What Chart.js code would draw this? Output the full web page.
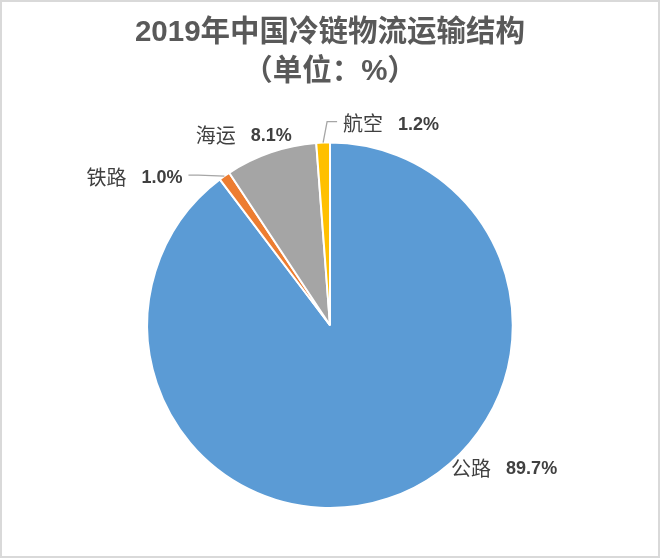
<!DOCTYPE html>
<html>
<head>
<meta charset="utf-8">
<script src="https://cdn.jsdelivr.net/npm/chart.js@4/dist/chart.umd.min.js"></script>
<style>
    body { margin: 0; background: #ffffff; }
    #chart { display: block; }
</style>
</head>
<body>
<canvas id="chart" width="660" height="558"></canvas>
<script>
"use strict";

// Chart data
var categories = ['公路', '铁路', '海运', '航空'];
var shares = [89.7, 1.0, 8.1, 1.2];
var valueLabels = ['89.7%', '1.0%', '8.1%', '1.2%'];
var titleLines = ['2019年中国冷链物流运输结构', '（单位：%）'];

// Slice colors
var sliceColors = ['#5B9BD5', '#ED7D31', '#A5A5A5', '#FFC000'];

// Label placement, relative to the outer middle of each slice
var labelOffsets = [[116, -30], [-90, 1], [-27, -17], [68, -19]];
var labelLeaders = [false, true, false, true];

var textColor = '#404040';
var cjkFont = '"Noto Sans CJK SC", sans-serif';
var latinFont = '"Liberation Sans", "Noto Sans CJK SC", sans-serif';

// Frame around the picture
var framePlugin = {
    id: 'frame',
    beforeDraw: function (chart) {
        var ctx = chart.ctx;
        ctx.save();
        ctx.fillStyle = '#ffffff';
        ctx.fillRect(0, 0, chart.width, chart.height);
        ctx.strokeStyle = '#d9d9d9';
        ctx.lineWidth = 2;
        ctx.strokeRect(1, 1, chart.width - 2, chart.height - 2);
        ctx.restore();
    }
};

// Outside labels with leader lines
var sliceLabelPlugin = {
    id: 'sliceLabels',
    afterDatasetsDraw: function (chart) {
        var ctx = chart.ctx;
        var arcs = chart.getDatasetMeta(0).data;
        ctx.save();
        arcs.forEach(function (arc, i) {
            var mid = (arc.startAngle + arc.endAngle) / 2;
            var px = arc.x + Math.cos(mid) * arc.outerRadius;
            var py = arc.y + Math.sin(mid) * arc.outerRadius;
            var cx = px + labelOffsets[i][0];
            var cy = py + labelOffsets[i][1];

            var nameFont = '20px ' + cjkFont;
            var valueFont = 'bold 18px ' + latinFont;
            ctx.font = nameFont;
            var nameW = ctx.measureText(categories[i]).width;
            ctx.font = valueFont;
            var valueW = ctx.measureText(valueLabels[i]).width;
            var gap = 15;
            var total = nameW + gap + valueW;
            var left = cx - total / 2;

            ctx.fillStyle = textColor;
            ctx.textBaseline = 'middle';
            ctx.textAlign = 'left';
            ctx.font = nameFont;
            ctx.fillText(categories[i], left, cy);
            ctx.font = valueFont;
            ctx.fillText(valueLabels[i], left + nameW + gap, cy + 1);

            if (labelLeaders[i]) {
                var side = cx > px ? -1 : 1;
                var endX = cx > px ? left - 6 : left + total + 6;
                var lineY = cy - 2;
                var elbowX = endX + side * 10;
                ctx.strokeStyle = '#a6a6a6';
                ctx.lineWidth = 1.3;
                ctx.beginPath();
                ctx.moveTo(px, py);
                ctx.lineTo(elbowX, lineY);
                ctx.lineTo(endX, lineY);
                ctx.stroke();
            }
        });
        ctx.restore();
    }
};

var ctx = document.getElementById('chart');

const config = {
    type: 'pie',
    data: {
        labels: categories,
        datasets: [
            {
                data: shares,
                backgroundColor: sliceColors,
                borderColor: '#ffffff',
                borderWidth: 2
            }
        ]
    },
    options: {
        responsive: false,
        animation: false,
        layout: {
            padding: { top: 0, bottom: 49, left: 0, right: 0 }
        },
        plugins: {
            legend: { display: false },
            tooltip: { enabled: false },
            title: {
                display: true,
                text: titleLines,
                color: '#595959',
                font: { size: 29.5, weight: 'bold', family: latinFont, lineHeight: 1.33 },
                padding: { top: 13, bottom: 50 }
            }
        }
    },
    plugins: [framePlugin, sliceLabelPlugin]
};

var myChart = new Chart(ctx, config);
</script>
</body>
</html>
